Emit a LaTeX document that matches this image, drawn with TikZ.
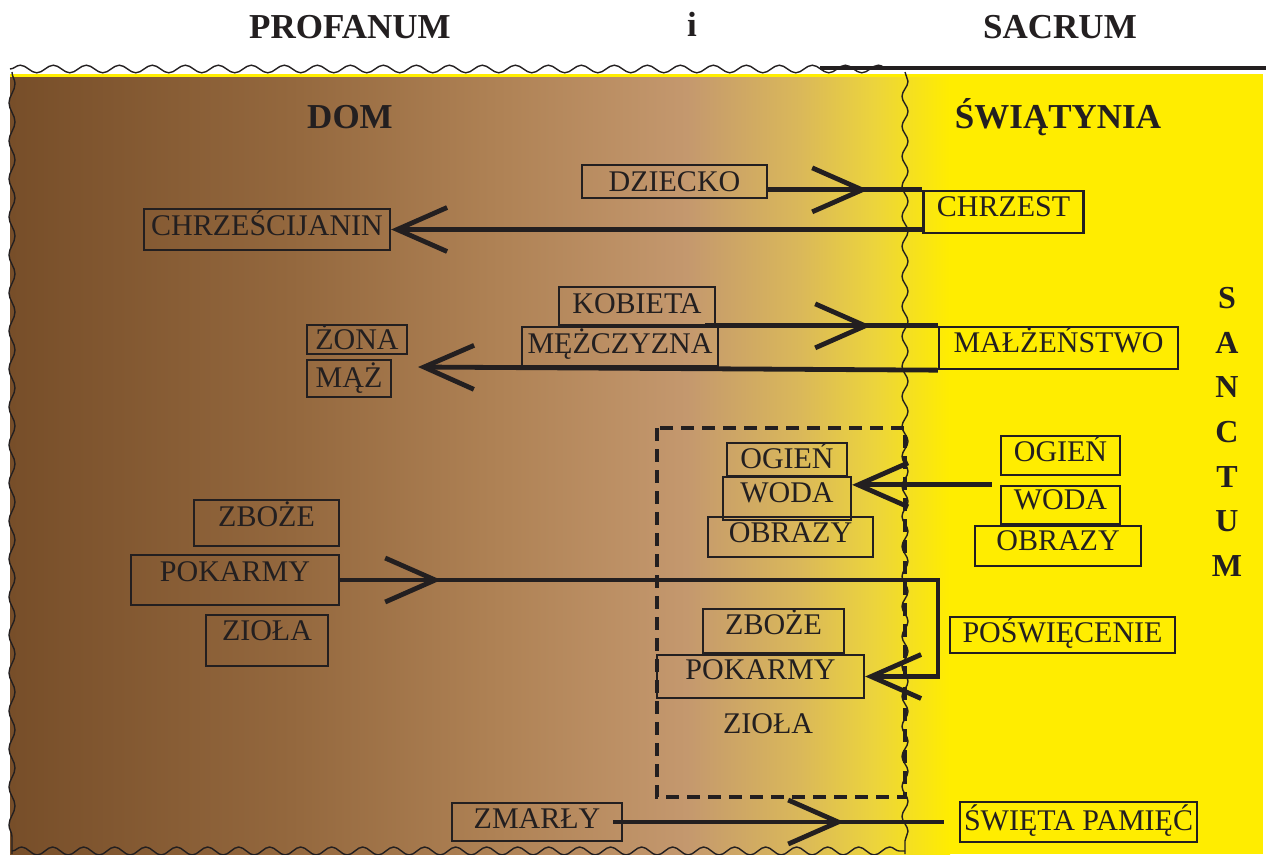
\documentclass[tikz,border=0pt]{standalone}
\usepackage{fontspec}
\setmainfont{Liberation Serif}
\usepackage{tikz}
\usetikzlibrary{arrows.meta, decorations.pathmorphing, decorations.markings}

\definecolor{ink}{HTML}{231F20}
\definecolor{sacrum}{HTML}{FFED00}
\definecolor{br0}{HTML}{774E29}
\definecolor{br1}{HTML}{94683E}
\definecolor{br2}{HTML}{AF8255}
\definecolor{br3}{HTML}{C4986E}
\definecolor{br4}{HTML}{DAB85A}
\definecolor{br5}{HTML}{ECD43C}

\pgfdeclarehorizontalshading{profshade}{100bp}{color(0bp)=(br0); color(25bp)=(br0); color(40bp)=(br1); color(51bp)=(br2); color(61bp)=(br3); color(67bp)=(br4); color(71bp)=(br5); color(75bp)=(sacrum); color(100bp)=(sacrum)}

\newcommand{\boxfont}{\fontsize{30}{30}\selectfont}
\newcommand{\headfont}{\fontsize{35}{35}\selectfont\bfseries}

\begin{document}
\begin{tikzpicture}[
    x=1pt, y=-1pt,
    box/.style={draw=ink, line width=2.3pt, inner sep=0pt, text=ink, font=\boxfont, text height=20pt, text depth=0pt},
    heading/.style={text=ink, font=\headfont, inner sep=0pt, anchor=base},
    conn/.style={draw=ink, line width=4.8pt},
    barb/.style={-{Straight Barb[length=50pt, width=44pt]}},
    midbarb/.style={postaction={decorate}, decoration={markings, mark=at position #1 with {\arrow{Straight Barb[length=50pt, width=44pt]}}}},
    wave/.style={draw=ink, line width=1.4pt, decorate, decoration={snake, amplitude=#1}},
    groupframe/.style={draw=ink, line width=4.5pt, dash pattern=on 13pt off 8pt}
]
\useasboundingbox (0,0) rectangle (1266,854);
\fill[white] (0,0) rectangle (1266,854);

% Background: dom (brown) fading into the yellow temple
\fill[sacrum] (10,74) rectangle (1263,854);
\shade[shading=profshade] (10,77) rectangle (950,854);

% Wavy borders and the bar over sacrum
\draw[wave=3.8pt, decoration={segment length=33pt}] (10,69) -- (905,69);
\draw[wave=3pt, decoration={segment length=38pt}] (12,72) -- (12,854);
\draw[wave=3pt, decoration={segment length=30pt}] (905,72) -- (905,854);
\draw[wave=4pt, decoration={segment length=31pt}] (12,851) -- (905,851);
\draw[ink, line width=4pt] (820,68) -- (1266,68);

% Headings
\node (profanum) [heading] at (350,38) {PROFANUM};
\node (and) [heading] at (692,36) {i};
\node (sacrumtitle) [heading] at (1060,38) {SACRUM};
\node (dom) [heading] at (350,128) {DOM};
\node (swiatynia) [heading] at (1058,128) {ŚWIĄTYNIA};
\node (sanctum) [text=ink, inner sep=0pt, anchor=north, align=center,
    font=\fontsize{32}{44.7}\selectfont\bfseries] at (1227,287) {S\\A\\N\\C\\T\\U\\M};

% Dashed frame round the blessed things
\draw[groupframe] (657,428) rectangle (905,797);

% Baptism
\node (dziecko) [box, minimum width=185pt, minimum height=33pt] at (674.5,181.5) {DZIECKO};
\node (chrzest) [box, minimum width=160pt, minimum height=42pt, text depth=12pt] at (1003.5,212) {CHRZEST};
\node (chrzescijanin) [box, minimum width=246pt, minimum height=41pt, text depth=8pt] at (267,229.5) {CHRZEŚCIJANIN};

% Marriage
\node (kobieta) [box, minimum width=156pt, minimum height=38pt, text depth=6pt] at (637,306) {KOBIETA};
\node (mezczyzna) [box, minimum width=196pt, minimum height=39pt, text depth=6pt] at (620,346.5) {MĘŻCZYZNA};
\node (zona) [box, minimum width=100pt, minimum height=29pt] at (357,339.5) {ŻONA};
\node (maz) [box, minimum width=84pt, minimum height=37pt, text depth=2pt] at (349,378.5) {MĄŻ};
\node (malzenstwo) [box, minimum width=239pt, minimum height=42pt, text depth=12pt] at (1058.5,348) {MAŁŻEŃSTWO};
\coordinate (weddingtip) at (418,367);

% Fire, water, pictures
\node (ogienL) [box, minimum width=120pt, minimum height=33pt, text depth=2pt] at (787,459.5) {OGIEŃ};
\node (wodaL) [box, minimum width=128pt, minimum height=43pt, text depth=12pt] at (787,498.5) {WODA};
\node (obrazyL) [box, minimum width=165pt, minimum height=40pt, text depth=10pt] at (790.5,537) {OBRAZY};
\node (ogienR) [box, minimum width=119pt, minimum height=39pt, text depth=8pt] at (1060.5,455.5) {OGIEŃ};
\node (wodaR) [box, minimum width=119pt, minimum height=38pt, text depth=12pt] at (1060.5,505) {WODA};
\node (obrazyR) [box, minimum width=166pt, minimum height=40pt, text depth=12pt] at (1058,546) {OBRAZY};

% Food and herbs
\node (zbozeL) [box, minimum width=145pt, minimum height=46pt, text depth=14pt] at (266.5,523) {ZBOŻE};
\node (pokarmyL) [box, minimum width=208pt, minimum height=50pt, text depth=18pt] at (235,580) {POKARMY};
\node (ziolaL) [box, minimum width=122pt, minimum height=51pt, text depth=20pt] at (267,640.5) {ZIOŁA};
\node (zbozeM) [box, minimum width=141pt, minimum height=44pt, text depth=14pt] at (773.5,631) {ZBOŻE};
\node (pokarmyM) [box, minimum width=207pt, minimum height=43pt, text depth=14pt] at (760.5,676.5) {POKARMY};
\node (ziolaM) [box, draw=none] at (768,723) {ZIOŁA};
\node (poswiecenie) [box, minimum width=225pt, minimum height=36pt, text depth=6pt] at (1062.5,635) {POŚWIĘCENIE};
\coordinate (blessbend) at (938,600);

% The dead
\node (zmarly) [box, minimum width=170pt, minimum height=38pt, text depth=8pt] at (537,822) {ZMARŁY};
\node (swieta) [box, minimum width=237pt, minimum height=40pt, text depth=4pt] at (1078.5,822) {ŚWIĘTA PAMIĘĆ};

% Connectors
\draw[conn, midbarb=100pt] (dziecko.east |- chrzest.north west) -- (chrzest.north west);
\draw[conn, barb] (chrzest.west |- chrzescijanin.east) -- (chrzescijanin.east);
\draw[conn, midbarb=166pt] ([xshift=-14pt]mezczyzna.north east) -- (malzenstwo.north west);
\draw[conn, barb] (malzenstwo.south west) -- (weddingtip);
\draw[conn, barb] ([xshift=-8pt]wodaR.north west) -- (wodaL.east |- wodaR.north west);
\draw[conn, midbarb=101pt, barb] (pokarmyL.east) -- (pokarmyL.east -| blessbend) |- (pokarmyM.east);
\draw[conn, midbarb=231pt] ([xshift=-10pt]zmarly.east) -- ([xshift=-15pt]swieta.west);

\end{tikzpicture}
\end{document}
